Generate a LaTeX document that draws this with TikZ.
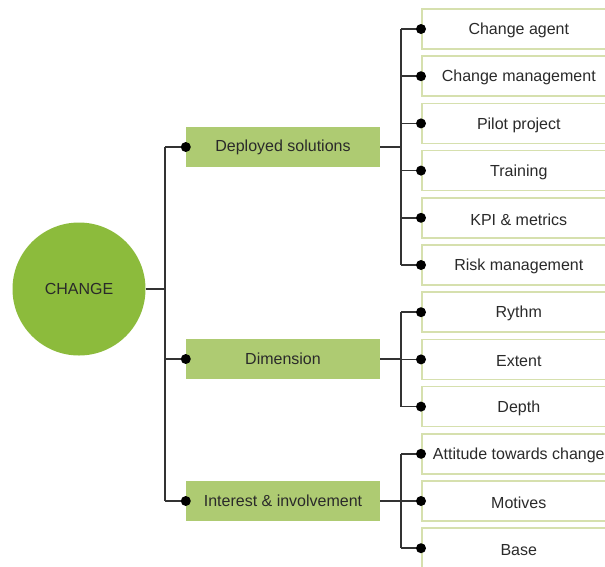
\documentclass[tikz,border=0pt]{standalone}
\usepackage{fontspec}
\setmainfont{Liberation Sans}
\definecolor{circlegreen}{HTML}{8CBB3C}
\definecolor{boxgreen}{HTML}{AECB72}
\definecolor{borderlite}{HTML}{D6E0AE}
\definecolor{linegray}{HTML}{333333}
\definecolor{txt}{HTML}{2A2A2A}
\begin{document}
\begin{tikzpicture}[x=1pt,y=-1pt,
  conn/.style={draw=linegray,line width=1.5pt},
  lbl/.style={text=txt,font=\fontsize{16}{19}\selectfont},
  rootnode/.style={circle,fill=circlegreen,minimum size=133pt,inner sep=0pt,lbl},
  midbox/.style={rectangle,fill=boxgreen,minimum width=194pt,minimum height=40pt,inner sep=0pt,lbl},
  leafbox/.style={rectangle,draw=borderlite,line width=1.6pt,fill=white,minimum width=194pt,minimum height=40pt,inner sep=0pt,anchor=west},
  dot/.style={circle,fill=black,minimum size=10pt,inner sep=0pt}]
\useasboundingbox (0,0) rectangle (605,566);
\clip (0,0) rectangle (605,566);
\fill[white] (0,0) rectangle (605,566);

% root
\node[rootnode] (root) at (79,289) {CHANGE};

% level 1
\node[midbox] (dep) at (283,147) {Deployed solutions};
\node[midbox] (dim) at (283,359) {Dimension};
\node[midbox] (int) at (283,501) {Interest \& involvement};

% level 2
\node[leafbox] (l1) at (421,29) {};
\node[leafbox] (l2) at (421,76.2) {};
\node[leafbox] (l3) at (421,123.4) {};
\node[leafbox] (l4) at (421,170.6) {};
\node[leafbox] (l5) at (421,217.8) {};
\node[leafbox] (l6) at (421,265) {};
\node[leafbox] (l7) at (421,312.2) {};
\node[leafbox] (l8) at (421,359.4) {};
\node[leafbox] (l9) at (421,406.6) {};
\node[leafbox] (l10) at (421,453.8) {};
\node[leafbox] (l11) at (421,501) {};
\node[leafbox] (l12) at (421,548.2) {};
\node[lbl,yshift=-1.5pt] (t1) at (l1.center) {Change agent};
\node[lbl,yshift=-1.5pt] (t2) at (l2.center) {Change management};
\node[lbl,yshift=-1.5pt] (t3) at (l3.center) {Pilot project};
\node[lbl,yshift=-1.5pt] (t4) at (l4.center) {Training};
\node[lbl,yshift=-1.5pt] (t5) at (l5.center) {KPI \& metrics};
\node[lbl,yshift=-1.5pt] (t6) at (l6.center) {Risk management};
\node[lbl,yshift=-1.5pt] (t7) at (l7.center) {Rythm};
\node[lbl,yshift=-1.5pt] (t8) at (l8.center) {Extent};
\node[lbl,yshift=-1.5pt] (t9) at (l9.center) {Depth};
\node[lbl,yshift=-1.5pt] (t10) at (l10.center) {Attitude towards change};
\node[lbl,yshift=-1.5pt] (t11) at (l11.center) {Motives};
\node[lbl,yshift=-1.5pt] (t12) at (l12.center) {Base};

% junction coordinates
\coordinate (j0) at (165,289);
\coordinate (j0t) at (165,147);
\coordinate (j0b) at (165,501);
\coordinate (jd) at (401,147);
\coordinate (jdt) at (401,29);
\coordinate (jdb) at (401,265);
\coordinate (jm) at (401,359);
\coordinate (jmt) at (401,312.2);
\coordinate (jmb) at (401,406.6);
\coordinate (ji) at (401,501);
\coordinate (jit) at (401,453.8);
\coordinate (jib) at (401,548.2);

% connectors level 1
\draw[conn] (root.east) -- (j0);
\draw[conn] (j0t) -- (j0b);
\draw[conn] (j0t) -- (dep.west);
\draw[conn] (j0 |- dim.west) -- (dim.west);
\draw[conn] (j0b) -- (int.west);

% connectors level 2
\draw[conn] (dep.east) -- (jd);
\draw[conn] (jdt) -- (jdb);
\draw[conn] (dim.east) -- (jm);
\draw[conn] (jmt) -- (jmb);
\draw[conn] (int.east) -- (ji);
\draw[conn] (jit) -- (jib);
\foreach \i in {1,...,12}{
  \draw[conn] (401,0 |- l\i.west) -- (l\i.west);
}

% dots
\node[dot] (d1) at (dep.west) {};
\node[dot] (d2) at (dim.west) {};
\node[dot] (d3) at (int.west) {};
\foreach \i in {1,...,12}{
  \node[dot] (dl\i) at (l\i.west) {};
}
\end{tikzpicture}
\end{document}
